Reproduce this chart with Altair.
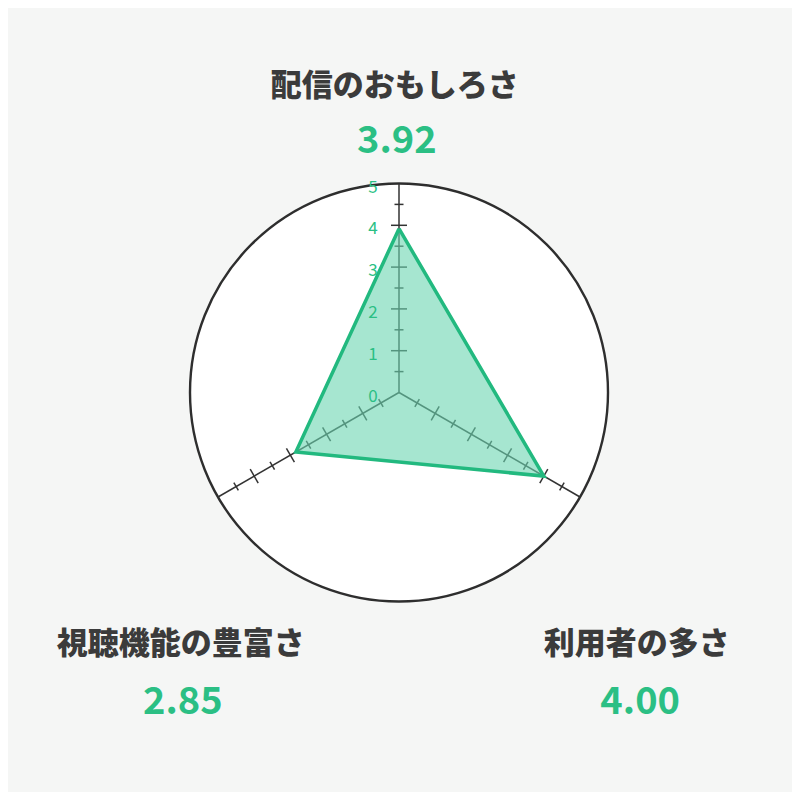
import altair as alt
import pandas as pd
import numpy as np

# ---- data ----
categories = ["配信のおもしろさ", "利用者の多さ", "視聴機能の豊富さ"]
scores = [3.92, 4.00, 2.85]
axis_angles = [90, -30, 210]          # degrees, direction of each spoke
scale_max = 5
tick_labels = [0, 1, 2, 3, 4, 5]
major_ticks = [1, 2, 3, 4]
minor_ticks = [0.5, 1.5, 2.5, 3.5, 4.5]

# ---- layout (pixels) ----
W = H = 784
PX = 41.8             # pixels per score unit
CX, CY = 391.0, 384.5 # center of the radar in plot pixels
MAJOR_HALF = 8.0 / PX
MINOR_HALF = 4.5 / PX
# label anchor positions (data units relative to the center)
title_pos = [(-0.1, 7.3), (5.69, -6.04), (-5.22, -6.04)]
value_pos = [(-0.05, 5.99), (5.77, -7.43), (-5.17, -7.43)]

GREEN = "#2bbf84"
DARK = "#3b3b3b"
FONT = "Noto Sans CJK JP"

xs = alt.Scale(domain=[-CX / PX, (W - CX) / PX], nice=False, zero=False)
ys = alt.Scale(domain=[-(H - CY) / PX, CY / PX], nice=False, zero=False)


def X(f):
    return alt.X(f, type="quantitative", scale=xs, axis=None)


def Y(f):
    return alt.Y(f, type="quantitative", scale=ys, axis=None)


rad = [np.deg2rad(a) for a in axis_angles]

# outer circle
circle_df = pd.DataFrame({"x": [0.0], "y": [0.0]})
circle = alt.Chart(circle_df).mark_circle(
    size=(2 * scale_max * PX) ** 2, fill="white", stroke="#2e2e2e",
    strokeWidth=2.4, opacity=1
).encode(x=X("x"), y=Y("y"))

# spokes
spoke_df = pd.DataFrame({
    "x": [0.0] * 3, "y": [0.0] * 3,
    "x2": [scale_max * np.cos(r) for r in rad],
    "y2": [scale_max * np.sin(r) for r in rad],
})
spokes = alt.Chart(spoke_df).mark_rule(color="#333333", strokeWidth=1.5).encode(
    x=X("x"), y=Y("y"), x2="x2", y2="y2"
)

# tick marks
rows = []
for r in rad:
    ux, uy = np.cos(r), np.sin(r)
    px_, py_ = -uy, ux
    for v in major_ticks:
        rows.append(dict(x=v * ux - MAJOR_HALF * px_, y=v * uy - MAJOR_HALF * py_,
                         x2=v * ux + MAJOR_HALF * px_, y2=v * uy + MAJOR_HALF * py_))
    for v in minor_ticks:
        rows.append(dict(x=v * ux - MINOR_HALF * px_, y=v * uy - MINOR_HALF * py_,
                         x2=v * ux + MINOR_HALF * px_, y2=v * uy + MINOR_HALF * py_))
ticks = alt.Chart(pd.DataFrame(rows)).mark_rule(color="#333333", strokeWidth=1.5).encode(
    x=X("x"), y=Y("y"), x2="x2", y2="y2"
)

# data polygon
poly_df = pd.DataFrame({
    "x": [s * np.cos(r) for s, r in zip(scores, rad)] + [scores[0] * np.cos(rad[0])],
    "y": [s * np.sin(r) for s, r in zip(scores, rad)] + [scores[0] * np.sin(rad[0])],
    "o": [0, 1, 2, 3],
})
poly = alt.Chart(poly_df).mark_line(
    fill="#6bd5b1", fillOpacity=0.6, stroke="#22b97f", strokeWidth=3.5, strokeJoin="miter"
).encode(x=X("x"), y=Y("y"), order="o:Q")

# scale labels on the top spoke
lab_df = pd.DataFrame({
    "x": [0.0] * len(tick_labels),
    "y": [float(v) for v in tick_labels],
    "t": [str(v) for v in tick_labels],
})
scale_labels = alt.Chart(lab_df).mark_text(
    font=FONT, fontSize=17, color=GREEN, align="center", baseline="middle", dx=-26, dy=4
).encode(x=X("x"), y=Y("y"), text="t:N")

# category titles and values
title_df = pd.DataFrame({
    "x": [p[0] for p in title_pos], "y": [p[1] for p in title_pos], "t": categories,
})
titles = alt.Chart(title_df).mark_text(
    font=FONT, fontSize=31, fontWeight=900, color=DARK, align="center", baseline="middle"
).encode(x=X("x"), y=Y("y"), text="t:N")

val_df = pd.DataFrame({
    "x": [p[0] for p in value_pos], "y": [p[1] for p in value_pos],
    "t": [f"{s:.2f}" for s in scores],
})
values = alt.Chart(val_df).mark_text(
    font=FONT, fontSize=38, fontWeight="bold", color=GREEN, align="center", baseline="middle"
).encode(x=X("x"), y=Y("y"), text="t:N")

chart = alt.layer(circle, spokes, ticks, poly, scale_labels, titles, values).properties(
    width=W, height=H, padding=0, background="#f5f6f5",
    autosize=alt.AutoSizeParams(type="none"),
).configure_view(stroke=None)

chart.save("out.html", embed_options={"renderer": "svg", "actions": False})
